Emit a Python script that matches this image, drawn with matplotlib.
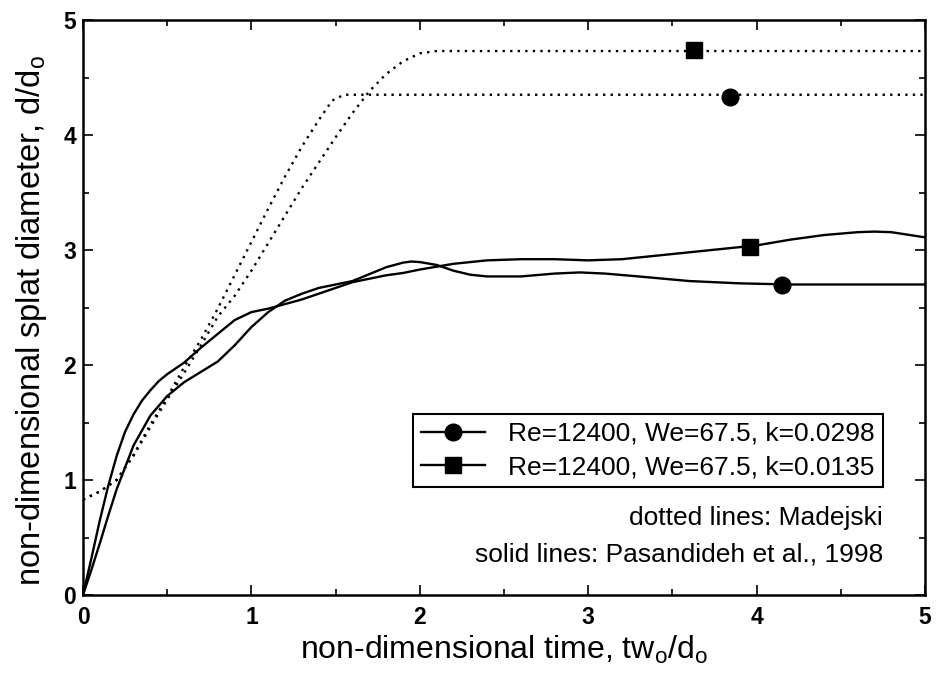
import matplotlib
matplotlib.use("Agg")
import matplotlib.pyplot as plt
from matplotlib.lines import Line2D

plt.rcParams['font.family'] = ['Liberation Sans', 'DejaVu Sans']
plt.rcParams['mathtext.fontset'] = 'custom'
plt.rcParams['mathtext.rm'] = 'Liberation Sans'
plt.rcParams['mathtext.it'] = 'Liberation Sans'
plt.rcParams['mathtext.default'] = 'regular'

# Madejski (dotted), k=0.0298 (circle)
mad_c_x = [0, 0.1, 0.2, 0.3, 0.4, 0.5, 0.6, 0.7, 0.8, 0.9, 1.0, 1.1, 1.2, 1.3, 1.4, 1.48, 1.55, 5.0]
mad_c_y = [0.83, 0.90, 1.00, 1.22, 1.48, 1.72, 1.98, 2.22, 2.49, 2.78, 3.07, 3.36, 3.64, 3.90, 4.13, 4.30, 4.35, 4.35]

# Madejski (dotted), k=0.0135 (square)
mad_s_x = [0, 0.1, 0.2, 0.3, 0.4, 0.5, 0.6, 0.7, 0.8, 0.9, 1.0, 1.1, 1.2, 1.3, 1.4, 1.5, 1.6, 1.7, 1.8, 1.9, 2.0, 2.1, 5.0]
mad_s_y = [0.83, 0.90, 1.00, 1.21, 1.46, 1.70, 1.93, 2.17, 2.42, 2.60, 2.82, 3.06, 3.30, 3.54, 3.76, 3.98, 4.19, 4.38, 4.53, 4.64, 4.71, 4.73, 4.73]

# Pasandideh et al. 1998 (solid), k=0.0298 (circle)
pas_c_x = [0, 0.05, 0.1, 0.15, 0.2, 0.3, 0.4, 0.5, 0.6, 0.7, 0.8, 0.9, 1.0, 1.1, 1.15, 1.2, 1.3, 1.4, 1.5, 1.6,
           1.7, 1.8, 1.9, 1.95, 2.0, 2.1, 2.2, 2.3, 2.4, 2.6, 2.8, 2.95, 3.1, 3.3, 3.6, 3.9, 4.2, 4.6, 5.0]
pas_c_y = [0, 0.22, 0.45, 0.69, 0.92, 1.30, 1.56, 1.73, 1.85, 1.94, 2.03, 2.17, 2.33, 2.46, 2.51, 2.56, 2.62, 2.67, 2.70, 2.73,
           2.79, 2.85, 2.89, 2.90, 2.895, 2.87, 2.82, 2.785, 2.77, 2.77, 2.795, 2.805, 2.795, 2.77, 2.73, 2.71, 2.70, 2.70, 2.70]

# Pasandideh et al. 1998 (solid), k=0.0135 (square)
pas_s_x = [0, 0.05, 0.1, 0.15, 0.2, 0.25, 0.3, 0.35, 0.4, 0.45, 0.5, 0.6, 0.7, 0.8, 0.9, 1.0, 1.1, 1.2, 1.3, 1.4, 1.5, 1.6,
           1.7, 1.8, 1.9, 2.0, 2.12, 2.2, 2.4, 2.6, 2.8, 3.0, 3.2, 3.4, 3.6, 3.8, 4.0, 4.2, 4.4, 4.6, 4.7, 4.8, 5.0]
pas_s_y = [0, 0.32, 0.65, 0.95, 1.21, 1.42, 1.57, 1.69, 1.78, 1.86, 1.92, 2.02, 2.15, 2.27, 2.39, 2.46, 2.49, 2.53, 2.57, 2.62, 2.67, 2.72,
           2.75, 2.78, 2.80, 2.83, 2.86, 2.88, 2.91, 2.92, 2.92, 2.91, 2.92, 2.95, 2.98, 3.01, 3.04, 3.09, 3.13, 3.155, 3.16, 3.155, 3.11]

# marker positions
circ_x = [3.84, 4.15]
circ_y = [4.33, 2.70]
sq_x = [3.63, 3.96]
sq_y = [4.74, 3.03]

labels = ['Re=12400, We=67.5, k=0.0298', 'Re=12400, We=67.5, k=0.0135']
notes = ['dotted lines: Madejski', 'solid lines: Pasandideh et al., 1998']
xticks = [0, 1, 2, 3, 4, 5]
yticks = [0, 1, 2, 3, 4, 5]

fig = plt.figure(figsize=(9.37, 6.91), dpi=100)
ax = fig.add_axes([83/937, 1-595/691, 842/937, 575/691])

dot = dict(color='black', lw=1.7, linestyle=(0, (1, 2.2)), dash_capstyle='butt')
ax.plot(mad_c_x, mad_c_y, **dot)
ax.plot(mad_s_x, mad_s_y, **dot)
ax.plot(pas_c_x, pas_c_y, color='black', lw=1.7)
ax.plot(pas_s_x, pas_s_y, color='black', lw=1.7)
ax.plot(circ_x, circ_y, 'o', color='black', ms=12)
ax.plot(sq_x, sq_y, 's', color='black', ms=12)

ax.set_xlim(0, 5)
ax.set_ylim(0, 5)
ax.set_xticks(xticks)
ax.set_yticks(yticks)
ax.set_xticks([0.5, 1.5, 2.5, 3.5, 4.5], minor=True)
ax.set_yticks([0.5, 1.5, 2.5, 3.5, 4.5], minor=True)
ax.tick_params(which='both', direction='in', top=True, right=True, width=1.2, color='black')
ax.tick_params(which='major', length=7)
ax.tick_params(which='minor', length=4.5)
ax.tick_params(axis='x', which='major', pad=8)
ax.tick_params(axis='y', which='major', pad=5)
for lab in ax.get_xticklabels() + ax.get_yticklabels():
    lab.set_fontsize(16.5)
    lab.set_fontweight('bold')
for s in ax.spines.values():
    s.set_linewidth(1.8)

ax.set_xlabel(r'non-dimensional time, tw$_\mathregular{o}$/d$_\mathregular{o}$', fontsize=23)
ax.set_ylabel(r'non-dimensional splat diameter, d/d$_\mathregular{o}$', fontsize=23.5)
ax.xaxis.set_label_coords(0.5, -0.068)
ax.yaxis.set_label_coords(-0.04, 0.478)

handles = [Line2D([], [], color='black', lw=1.7, marker='o', ms=12),
           Line2D([], [], color='black', lw=1.7, marker='s', ms=12)]
leg = ax.legend(handles, labels, loc='upper right', bbox_to_anchor=(0.950, 0.3148),
                fontsize=19, frameon=True, fancybox=False, framealpha=1, edgecolor='black',
                borderpad=0.3, labelspacing=0.36, handlelength=2.4, handletextpad=0.9,
                borderaxespad=0)
leg.get_frame().set_linewidth(1.5)

ax.text(0.950, 0.134, notes[0], transform=ax.transAxes, ha='right', va='center', fontsize=19)
ax.text(0.950, 0.0696, notes[1], transform=ax.transAxes, ha='right', va='center', fontsize=19)

fig.savefig('out.png', dpi=100)
